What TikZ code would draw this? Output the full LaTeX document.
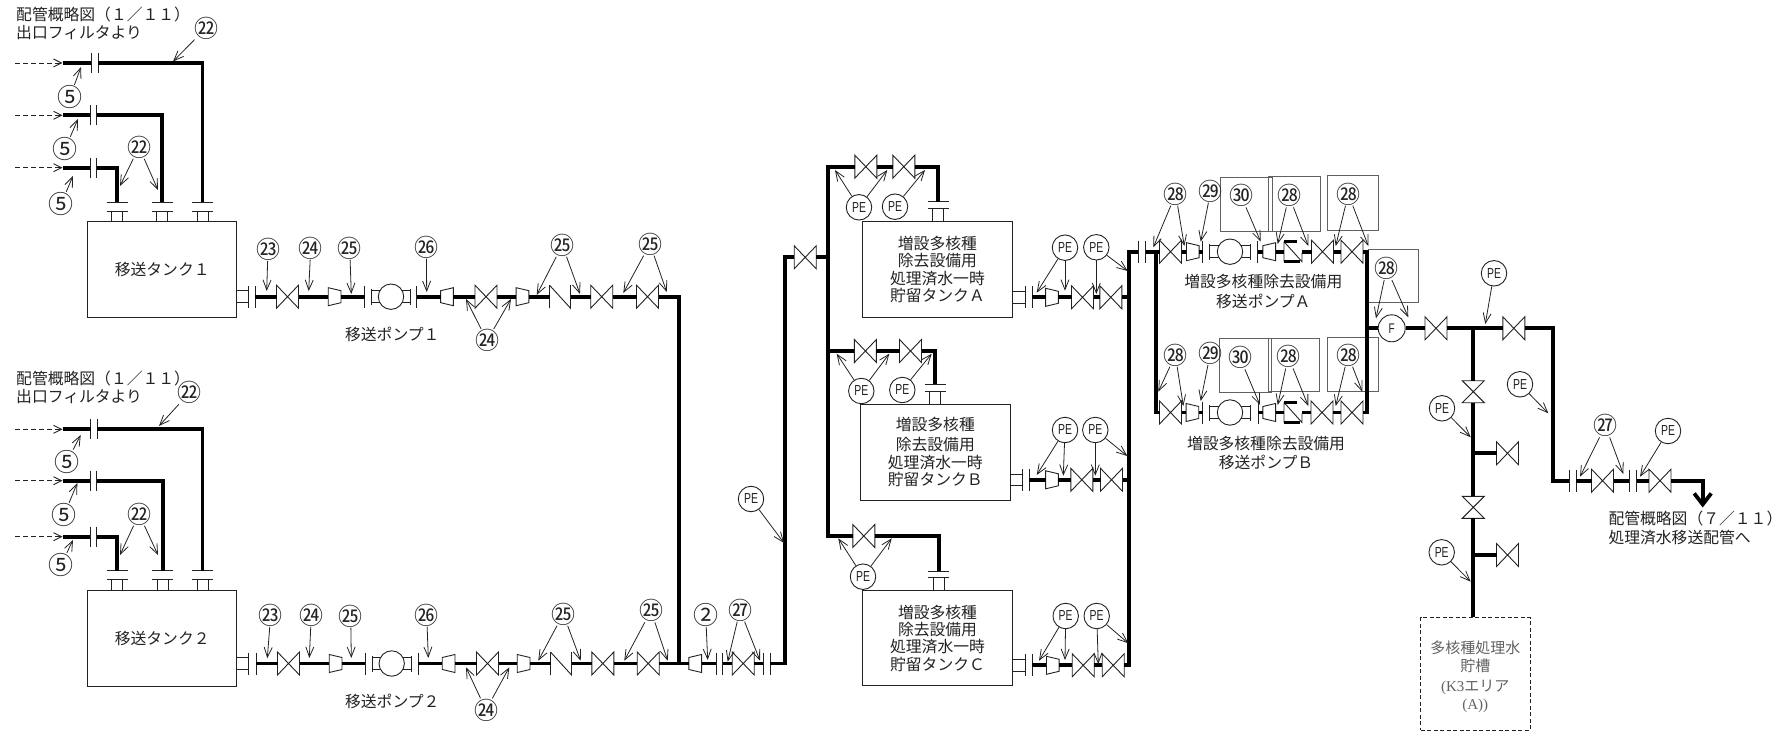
\documentclass[tikz,border=0pt]{standalone}
\usepackage{fontspec}
\usetikzlibrary{arrows.meta,calc}
\newfontfamily\cjk{Noto Sans CJK JP}
\newfontfamily\nar[FakeStretch=0.72]{Liberation Sans}
\newfontfamily\ser{Liberation Serif}
\definecolor{ink}{HTML}{222222}
\tikzset{
 pipe/.style={line width=3.8pt,draw=black,line join=miter},
 thinl/.style={line width=0.9pt,draw=ink},
 lead/.style={line width=0.8pt,draw=ink,-{Straight Barb[length=10pt,width=8pt]}},
 dashin/.style={line width=0.9pt,draw=ink,dash pattern=on 5pt off 3pt,-{Straight Barb[length=8pt,width=8pt]}},
 vbox/.style={rectangle,inner sep=0pt,outer sep=0pt,minimum width=22pt,minimum height=23pt},
 rbox/.style={rectangle,inner sep=0pt,outer sep=0pt,minimum width=12.7pt,minimum height=18pt},
 ckbox/.style={rectangle,inner sep=0pt,outer sep=0pt,minimum width=21pt,minimum height=23pt},
 flbox/.style={rectangle,inner sep=0pt,outer sep=0pt,minimum width=0pt,minimum height=#1},
 fhbox/.style={rectangle,inner sep=0pt,outer sep=0pt,minimum width=21pt,minimum height=0pt},
 pumpc/.style={circle,draw=ink,line width=0.9pt,fill=white,inner sep=0pt,minimum size=25.4pt},
 numlab/.style={inner sep=0pt,outer sep=0.5pt,text=ink,font=\cjk\fontsize{24}{24}\selectfont},
 pelab/.style={circle,draw=ink,line width=0.9pt,fill=white,inner sep=0pt,minimum size=25.5pt,text=ink,font=\nar\fontsize{14.5}{14.5}\selectfont},
 tank/.style={rectangle,draw=ink,line width=1pt,align=center,inner sep=0pt,text=ink,font=\cjk\fontsize{15.8}{17.4}\selectfont},
 txt/.style={inner sep=0pt,text=ink,align=left,font=\cjk\fontsize{15.8}{19}\selectfont},
 gbox/.style={draw=black!62,line width=0.9pt},
}
\newcommand\BIG[1]{{\fontsize{25}{25}\selectfont #1}}
\newcount\nct
\newcommand\NUM[4]{\global\advance\nct by 1
 \node[numlab] (n\the\nct) at (#1,#2) {#3};
 \foreach \tx/\ty [count=\k] in {#4}{\coordinate (t\the\nct-\k) at (\tx,\ty); \draw[lead] (n\the\nct) -- (t\the\nct-\k);}}
\newcommand\PE[3]{\global\advance\nct by 1
 \node[pelab] (n\the\nct) at (#1,#2) {PE};
 \foreach \tx/\ty [count=\k] in {#3}{\coordinate (t\the\nct-\k) at (\tx,\ty); \draw[lead] (n\the\nct) -- (t\the\nct-\k);}}
\newcommand\VH[3]{\node[vbox] (#1) at (#2,#3) {};
 \draw[thinl] (#1.north west) -- (#1.south east) -- (#1.north east) -- (#1.south west) -- cycle;}
\newcommand\VV[3]{\node[vbox,minimum width=22pt,minimum height=22pt] (#1) at (#2,#3) {};
 \draw[thinl] (#1.north west) -- (#1.north east) -- (#1.south west) -- (#1.south east) -- cycle;}
\newcommand\REDL[3]{\node[rbox] (#1) at (#2,#3) {};
 \draw[thinl] (#1.north west) -- ([yshift=-3pt]#1.north east) -- ([yshift=3pt]#1.south east) -- (#1.south west) -- cycle;}
\newcommand\REDR[3]{\node[rbox] (#1) at (#2,#3) {};
 \draw[thinl] (#1.north east) -- ([yshift=-3pt]#1.north west) -- ([yshift=3pt]#1.south west) -- (#1.south east) -- cycle;}
\newcommand\FL[3]{\node[flbox=22pt] (#1) at (#2,#3) {}; \draw[thinl] (#1.north) -- (#1.south);}
\newcommand\FLs[3]{\node[flbox=20pt] (#1) at (#2,#3) {}; \draw[thinl] (#1.north) -- (#1.south);}
\newcommand\CK[3]{\node[ckbox] (#1) at (#2,#3) {};
 \draw[thinl] (#1.north west) -- (#1.south west) (#1.north west) -- (#1.south east) -- (#1.north east);}
\newcommand\CKS[3]{\node[ckbox,minimum width=18pt,minimum height=20pt] (#1) at (#2,#3) {};
 \draw[thinl] (#1.north west) -- (#1.south west) (#1.north west) -- (#1.south east) -- ([yshift=9pt]#1.south east);
 \draw[line width=2.4pt,draw=black] (#1.north west) -- ([xshift=-5pt]#1.north east);
 \draw[line width=2.4pt,draw=black] (#1.south west) -- ([xshift=-2pt]#1.south east);}
% pump: small flanges #2,#4, circle at #3
\newcommand\PUMP[5]{\node[flbox=16pt] (#1a) at (#2,#5) {}; \node[flbox=16pt] (#1b) at (#4,#5) {};
 \draw[thinl] (#1a.north) -- (#1a.south) (#1b.north) -- (#1b.south);
 \draw[thinl] ([yshift=5.8pt]#1a.center) -- ([yshift=5.8pt]#1b.center) ([yshift=-5.8pt]#1a.center) -- ([yshift=-5.8pt]#1b.center);
 \node[pumpc] (#1) at (#3,#5) {};}
% chain of pipes
\newcommand\CH[1]{\foreach \pa [count=\k,remember=\pa as \pb] in {#1}{\ifnum\k>1 \draw[pipe] (\pb.east) -- (\pa.west);\fi}}
% nozzle right of a tank
\newcommand\NOZR[2]{\draw[thinl] ([yshift=5.8pt]#2.center) -- ([yshift=5.8pt]#2.center -| #1.east) ([yshift=-5.8pt]#2.center) -- ([yshift=-5.8pt]#2.center -| #1.east);}
% top nozzle of a tank: flanges named #1 and #1b
\newcommand\TOPN[5]{\node[fhbox] (#1) at (#2,#3) {}; \node[fhbox] (#1b) at (#2,#4) {};
 \draw[thinl] (#1.west) -- (#1.east) (#1b.west) -- (#1b.east);
 \draw[thinl] ([xshift=-5.5pt]#1b.center) -- ([xshift=-5.5pt]#1b.center |- #5.north) ([xshift=5.5pt]#1b.center) -- ([xshift=5.5pt]#1b.center |- #5.north);}
% inlet: dashed, flange pair, pipe to top nozzle
\newcommand\INLET[5]{\coordinate (#1s) at (15,#2); \coordinate (#1e) at (62.5,#2);
 \FLs{#1f}{#3}{#2}\FLs{#1g}{#4}{#2}
 \draw[dashin] (#1s) -- (#1e);
 \draw[pipe] (#1e) -- (#1f.west);
 \draw[pipe] (#1g.east) -| (#5.north);}
\begin{document}
\begin{tikzpicture}[x=1pt,y=-1pt]
\useasboundingbox (0,0) rectangle (1789,738);
% ---------- grey rectangles
\draw[gbox] (1220.3,177.3) rectangle (1272.3,231.3);
\draw[gbox] (1268.3,176.7) rectangle (1320,231);
\draw[gbox] (1327.3,175.7) rectangle (1378.3,230);
\draw[gbox] (1368.3,249.3) rectangle (1418.3,302);
\draw[gbox] (1219.3,338.3) rectangle (1271.7,392.3);
\draw[gbox] (1268.3,338) rectangle (1319.3,391.7);
\draw[gbox] (1327.3,337.3) rectangle (1378.3,391.3);
% ---------- transfer tanks
\node[tank,minimum width=149.5pt,minimum height=95.5pt] (T1) at (162.2,269.3) {移送タンク１};
\node[tank,minimum width=149.5pt,minimum height=96pt] (T2) at (162.2,638) {移送タンク２};
\TOPN{a1}{117}{202}{211}{T1}\TOPN{a2}{162}{202}{211}{T1}\TOPN{a3}{202.5}{202}{211}{T1}
\TOPN{b1}{117.3}{570.7}{579.3}{T2}\TOPN{b2}{162.7}{570.7}{579.3}{T2}\TOPN{b3}{202.5}{570.7}{579.3}{T2}
\INLET{ia}{63}{91}{98}{a3}
\INLET{ib}{115.3}{90}{96.5}{a2}
\INLET{ic}{167.7}{90}{96.5}{a1}
\INLET{ja}{429.3}{90.7}{97.3}{b3}
\INLET{jb}{480.7}{90}{96.5}{b2}
\INLET{jc}{536.7}{90}{96.5}{b1}
\node[txt,anchor=west] (h1) at (16,14) {配管概略図（１／１１）};
\node[txt,anchor=west] (h2) at (16,33) {出口フィルタより};
\node[txt,anchor=west] (h3) at (16,378) {配管概略図（１／１１）};
\node[txt,anchor=west] (h4) at (16,397) {出口フィルタより};
% ---------- pump 1 line
\def\ya{296.7}
\FL{f11}{248}{\ya}\FL{f12}{255}{\ya}\NOZR{T1}{f11}
\VH{v11}{287.5}{\ya}\REDL{r11}{334.6}{\ya}\FL{f13}{364.7}{\ya}
\PUMP{p1}{371.3}{391}{410.3}{\ya}
\FL{f14}{416.7}{\ya}\REDR{r12}{447}{\ya}\VH{v12}{486}{\ya}\REDL{r13}{522.5}{\ya}
\CK{c1}{560}{\ya}\VH{v13}{601.7}{\ya}\VH{v14}{647.5}{\ya}
\CH{f12,v11,r11,f13}\CH{f14,r12,v12,r13,c1,v13,v14}
% ---------- pump 2 line
\def\yb{663.5}
\FL{f21}{248.3}{\yb}\FL{f22}{256}{\yb}\NOZR{T2}{f21}
\VH{v21}{288.5}{\yb}\REDL{r21}{335.6}{\yb}\FL{f23}{365.3}{\yb}
\PUMP{p2}{372}{391.7}{411}{\yb}
\FL{f24}{418.3}{\yb}\REDR{r22}{448.6}{\yb}\VH{v22}{487.5}{\yb}\REDL{r23}{523.6}{\yb}
\CK{c2}{561}{\yb}\VH{v23}{602.8}{\yb}\VH{v24}{648.2}{\yb}
\REDR{r25}{695.2}{\yb}\FL{f25}{716}{\yb}\FL{f26}{722.7}{\yb}\VH{v25}{743.2}{\yb}\FL{f27}{763.3}{\yb}\FL{f28}{770}{\yb}
\CH{f22,v21,r21,f23}\CH{f24,r22,v22,r23,c2,v23,v24,r25,f25}\CH{f26,v25,f27}
\coordinate (j1) at (679.3,\yb);
\draw[pipe] (v14.east) -| (j1);
\coordinate (u1) at (785.3,257.3);
\VH{v26}{805.2}{257.3}
\draw[pipe] (f28.east) -| (u1) -- (v26.west);
\node[txt,anchor=center] (pl1) at (392.3,334.3) {移送ポンプ１};
\node[txt,anchor=center] (pl2) at (392.3,701.7) {移送ポンプ２};
% ---------- storage tanks
\node[tank,minimum width=149.4pt,minimum height=95.3pt] (TA) at (937.4,269.4) {増設多核種\\除去設備用\\処理済水一時\\貯留タンクＡ};
\node[tank,minimum width=150pt,minimum height=96pt] (TB) at (935.3,452.3) {増設多核種\\[2.5pt]除去設備用\\処理済水一時\\貯留タンクＢ};
\node[tank,minimum width=149.6pt,minimum height=95.7pt] (TC) at (937.5,638.1) {増設多核種\\除去設備用\\処理済水一時\\貯留タンクＣ};
\TOPN{ta}{938.3}{201.7}{208.3}{TA}\TOPN{tb}{935}{384}{391.7}{TB}\TOPN{tc}{938.7}{571}{577.7}{TC}
\VH{va1}{865.8}{166.7}\VH{va2}{903.8}{166.7}
\VH{vb1}{865.4}{351}\VH{vb2}{910.5}{351}
\VH{vc1}{863.8}{536}
\coordinate (cL) at (828.3,536);
\draw[pipe] (va1.west) -| (cL) -- (vc1.west);
\draw[pipe] (vb1.west) -- (vb1.west -| cL);
\draw[pipe] (v26.east) -- (v26.east -| cL);
\CH{va1,va2}\CH{vb1,vb2}
\draw[pipe] (va2.east) -| (ta.north);
\draw[pipe] (vb2.east) -| (tb.north);
\draw[pipe] (vc1.east) -| (tc.north);
% tank outlets
\FL{oa1}{1025}{297.3}\FL{oa2}{1032}{297.3}\NOZR{TA}{oa1}\REDL{ra}{1052}{297.3}\VH{oav1}{1082.5}{297.3}\VH{oav2}{1110.8}{297.3}
\FL{ob1}{1022.7}{479.8}\FL{ob2}{1029.3}{479.8}\NOZR{TB}{ob1}\REDL{rb}{1052}{479.8}\VH{obv1}{1081.8}{479.8}\VH{obv2}{1111.5}{479.8}
\FL{oc1}{1025.7}{665.3}\FL{oc2}{1032.3}{665.3}\NOZR{TC}{oc1}\REDL{rc}{1052.8}{665.3}\VH{ocv1}{1083.2}{665.3}\VH{ocv2}{1113.2}{665.3}
\CH{oa2,ra,oav1,oav2}\CH{ob2,rb,obv1,obv2}\CH{oc2,rc,ocv1,ocv2}
\FL{m1}{1138.3}{251.7}\FL{m2}{1145.7}{251.7}
\coordinate (cR) at (1129.3,665.3);
\draw[pipe] (m1.west) -| (cR) -- (ocv2.east);
\draw[pipe] (oav2.east) -- (oav2.east -| cR);
\draw[pipe] (obv2.east) -- (obv2.east -| cR);
% ---------- pump A
\def\yc{251.7}
\VH{wa1}{1170.5}{\yc}\REDL{wr1}{1192.8}{\yc}\FL{wf1}{1202.7}{\yc}\PUMP{pa}{1209.3}{1230}{1250.3}{\yc}\FL{wf2}{1257.7}{\yc}
\REDR{wr2}{1269.2}{\yc}\CKS{wc}{1293}{\yc}\VH{wa2}{1322.5}{\yc}\VH{wa3}{1352}{\yc}
\CH{m2,wa1,wr1,wf1}\CH{wf2,wr2,wc,wa2,wa3}
% ---------- pump B
\def\yd{412.5}
\VH{xa1}{1170.5}{\yd}\REDL{xr1}{1192.4}{\yd}\FL{xf1}{1202.7}{\yd}\PUMP{pb}{1209.3}{1230}{1250.7}{\yd}\FL{xf2}{1258.3}{\yd}
\REDR{xr2}{1269.2}{\yd}\CKS{xc}{1293}{\yd}\VH{xa2}{1322}{\yd}\VH{xa3}{1352}{\yd}
\CH{xa1,xr1,xf1}\CH{xf2,xr2,xc,xa2,xa3}
\coordinate (lc) at (1155.7,\yd);
\coordinate (lt) at (1155.7,\yc);
\coordinate (rc1) at (1367.3,\yc);
\draw[pipe] (lt) -- (lc) -- (xa1.west);
\draw[pipe] (wa3.east) -- (rc1) |- (xa3.east);
\node[txt,anchor=center] (pa1) at (1263.3,281.7) {増設多核種除去設備用};
\node[txt,anchor=center] (pa2) at (1263.3,301) {移送ポンプＡ};
\node[txt,anchor=center] (pb1) at (1266,444) {増設多核種除去設備用};
\node[txt,anchor=center] (pb2) at (1266,462.3) {移送ポンプＢ};
% ---------- outlet
\def\ye{328.3}
\coordinate (jr) at (1367.3,\ye);
\node[pumpc,minimum size=27pt,text=ink,font=\nar\fontsize{14}{14}\selectfont] (FF) at (1391.7,\ye) {F};
\VH{y1}{1436}{\ye}\coordinate (jv) at (1473.3,\ye);\VH{y2}{1513.8}{\ye}
\draw[pipe] (jr) -- (FF.west);\draw[pipe] (FF.east) -- (y1.west);\draw[pipe] (y1.east) -- (y2.west);
\def\yf{480.7}
\FL{g1}{1569.3}{\yf}\FL{g2}{1576}{\yf}\VH{g3}{1602.5}{\yf}\FL{g4}{1629.3}{\yf}\FL{g5}{1636.7}{\yf}\VH{g6}{1660}{\yf}
\coordinate (cq) at (1552.7,\yf);
\draw[pipe] (y2.east) -| (cq) -- (g1.west);
\CH{g2,g3,g4}\CH{g5,g6}
\coordinate (ae) at (1702.7,507.5);
\draw[pipe,-{Straight Barb[length=11pt,width=17pt]}] (g6.east) -| (ae);
\node[txt,anchor=west] (h5) at (1608.3,518.3) {配管概略図（７／１１）};
\node[txt,anchor=west] (h6) at (1608.3,537.3) {処理済水移送配管へ};
% ---------- tank box
\node[rectangle,draw=ink,line width=0.9pt,dash pattern=on 4pt off 2.5pt,minimum width=109.3pt,minimum height=113pt,inner sep=0pt] (BX) at (1475.3,673.8) {};
\node[inner sep=0pt,align=center,text=black!62,font=\cjk\fontsize{15}{18}\selectfont] (BXT) at (1475.3,676.5) {多核種処理水\\貯槽\\[2pt]{\ser (K3}エリア\\{\ser (A))}};
\VV{z1}{1473.3}{391.7}\VV{z2}{1473.3}{507.3}
\draw[pipe] (jv) -- (z1.north);\draw[pipe] (z1.south) -- (z2.north);\draw[pipe] (z2.south) -- (z2.south |- BX.north);
\VH{z3}{1507.5}{453.3}\VH{z4}{1507.5}{555}
\draw[pipe] (z3.west) -- (z3.west -| jv);\draw[pipe] (z4.west) -- (z4.west -| jv);
% ---------- numbered labels, tank 1 side
\NUM{206}{28}{㉒}{173/61.5}
\NUM{70}{97}{\BIG{⑤}}{81/67}
\NUM{65}{149}{\BIG{⑤}}{78/119}
\NUM{61}{204}{\BIG{⑤}}{73/176}
\NUM{139}{147}{㉒}{120/186,158/190}
\NUM{189.5}{392.7}{㉒}{159/426}
\NUM{67}{461.7}{\BIG{⑤}}{80.7/435}
\NUM{64}{515}{\BIG{⑤}}{77.3/483}
\NUM{61}{565}{\BIG{⑤}}{73/540}
\NUM{139}{514}{㉒}{120/555,158/555}
\NUM{268}{249.3}{㉓}{266.7/291}
\NUM{310.7}{248}{㉔}{308.7/291}
\NUM{349.7}{248}{㉕}{351.3/294}
\NUM{426.3}{247}{㉖}{426.7/292}
\NUM{562.3}{245}{㉕}{536.7/295,580/294}
\NUM{650}{244}{㉕}{623.3/293,666.7/292}
\NUM{487}{340.7}{㉔}{466/299,511/299}
\NUM{270.7}{615}{㉓}{267.3/658.3}
\NUM{311.3}{615}{㉔}{309.3/658}
\NUM{350.7}{616}{㉕}{351.3/658}
\NUM{426.7}{615}{㉖}{428.3/658}
\NUM{563.3}{614}{㉕}{538.3/660.7,580.7/660.7}
\NUM{651}{610.7}{㉕}{624.3/660.7,667.7/660.7}
\NUM{486}{710}{㉔}{466/667.3,509.3/667.3}
\NUM{705.7}{615}{\BIG{②}}{707.7/660}
\NUM{740}{610}{㉗}{727.7/661.7,760/660.7}
\PE{751}{499}{784/543}
% tanks A B C
\PE{859}{207.3}{835/170,887.3/170}
\PE{895}{206.7}{925/170}
\PE{1065}{247.7}{1036.7/292.7,1065/290.7}
\PE{1096.3}{247.3}{1096.3/294,1127.7/271}
\PE{861.3}{391}{836.7/353.7,889.3/353.7}
\PE{902.3}{390}{931.7/353.7}
\PE{1065}{430}{1036.7/475,1063.3/475.7}
\PE{1095.3}{430}{1095.3/475.7,1127.3/456}
\PE{863}{576.7}{838.3/538.3,891.7/538.3}
\PE{1065.7}{616}{1039/660.7,1065/660}
\PE{1096.7}{616}{1098.3/664,1128.3/643.3}
% pump A and B
\NUM{1175.7}{194}{㉘}{1153.3/247.3,1184.3/246}
\NUM{1210.7}{191}{㉙}{1200.7/241.7}
\NUM{1241}{195.7}{㉚}{1260.7/241.7}
\NUM{1289}{195.7}{㉘}{1277.7/244,1308.3/246}
\NUM{1348.3}{194}{㉘}{1335.7/246,1368.3/246}
\NUM{1386.7}{268.3}{㉘}{1376/318.3,1408.3/317.3}
\NUM{1175.3}{355}{㉘}{1158.3/391.7,1183.3/406}
\NUM{1210.3}{353.3}{㉙}{1200.7/401}
\NUM{1240}{357.7}{㉚}{1260/405}
\NUM{1288.3}{356.7}{㉘}{1277.7/405,1308.3/406}
\NUM{1348}{355}{㉘}{1335.7/406,1362.3/391.7}
% outlet side
\PE{1494}{273.3}{1485.3/324}
\PE{1520}{384.3}{1548.3/413.3}
\PE{1442}{408.3}{1470.7/437.3}
\PE{1441.7}{552.3}{1470.7/581.7}
\NUM{1605.3}{425.7}{㉗}{1580/476.7,1623.3/474}
\PE{1668}{431}{1640/476.7}
\end{tikzpicture}
\end{document}
